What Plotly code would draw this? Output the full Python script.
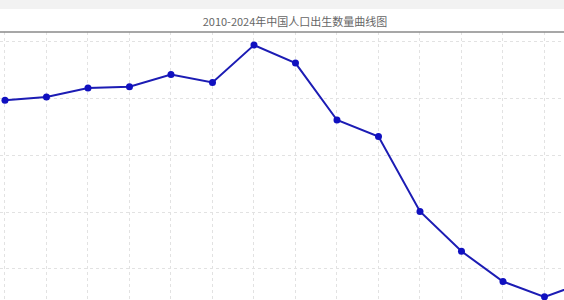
import plotly.graph_objects as go

years = [2010, 2011, 2012, 2013, 2014, 2015, 2016, 2017, 2018, 2019, 2020, 2021, 2022, 2023, 2024]
births = [1592, 1604, 1635, 1640, 1683, 1655, 1786, 1723, 1523, 1465, 1202, 1062, 956, 902, 954]
title_text = "2010-2024年中国人口出生数量曲线图"

W, H = 564, 300
top = 32
plot_h = H - top

fig = go.Figure()
fig.add_trace(go.Scatter(
    x=years, y=births, mode="lines+markers",
    line=dict(color="#1c1cb4", width=2),
    marker=dict(color="#1010c0", size=7),
    cliponaxis=True,
))

fig.update_layout(
    width=W, height=H,
    margin=dict(l=0, r=0, t=top, b=0),
    paper_bgcolor="white", plot_bgcolor="white",
    showlegend=False,
    title=dict(text=title_text, x=295 / W, xanchor="center", y=1 - 22 / H, yanchor="middle",
               font=dict(family="Noto Sans CJK SC", size=11, color="#666666")),
    xaxis=dict(range=[2009.88, 2023.47], showticklabels=False, ticks="",
               dtick=1, tick0=2010, showgrid=True, gridcolor="#e2e2e2",
               griddash="dot", gridwidth=1, zeroline=False, showline=False),
    yaxis=dict(range=[891, 1832], showticklabels=False, ticks="",
               dtick=200, tick0=1000, showgrid=True, gridcolor="#e2e2e2",
               griddash="dot", gridwidth=1, zeroline=False, showline=False),
    shapes=[
        dict(type="rect", xref="paper", yref="paper", x0=-0.01, x1=1.01,
             y0=1 + (top - 9) / plot_h, y1=1 + top / plot_h + 0.01,
             fillcolor="#f2f2f2", line=dict(width=0), layer="below"),
        dict(type="line", xref="paper", yref="paper", x0=0, x1=1, y0=1, y1=1,
             line=dict(color="#8a8a8a", width=1.5)),
    ],
)

fig.write_html("out.html")
